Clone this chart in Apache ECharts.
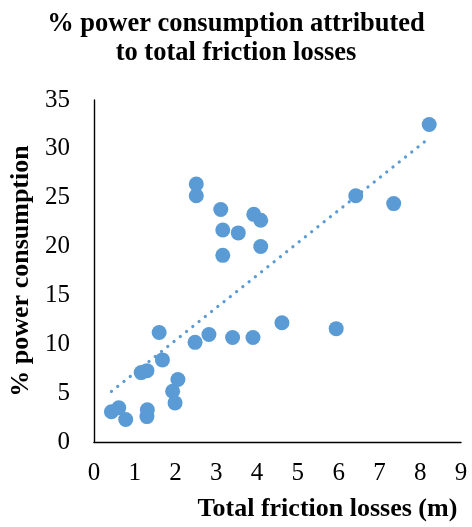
<!DOCTYPE html>
<html>
<head>
<meta charset="utf-8">
<script src="https://cdn.jsdelivr.net/npm/echarts@6/dist/echarts.min.js"></script>
<style>
  html, body { margin: 0; padding: 0; background: #fff; }
  #chart { width: 472px; height: 527px; }
</style>
</head>
<body>
<div id="chart"></div>
<script>
// Total friction losses (m)
const frictionLosses = [
  2.51, 2.51, 3.11, 3.92, 4.09, 3.16, 3.54, 4.09, 3.16, 8.22,
  6.42, 7.35, 1.60, 2.82, 2.48, 3.40, 3.90, 4.61, 5.94, 1.68,
  1.16, 1.30, 2.06, 1.93, 1.99, 0.43, 0.61, 0.78, 1.31, 1.30
];
// % power consumption attributed to friction losses
const powerShare = [
  26.4, 25.2, 23.8, 23.3, 22.7, 21.7, 21.4, 20.0, 19.1, 32.5,
  25.2, 24.4, 11.2, 11.0, 10.2, 10.7, 10.7, 12.2, 11.6, 8.4,
  7.1, 7.3, 6.4, 5.2, 4.0, 3.1, 3.5, 2.3, 3.3, 2.6
];
const xTicks = { min: 0, max: 9, step: 1 };
const yTicks = { min: 0, max: 35, step: 5 };

const points = frictionLosses.map((x, i) => [x, powerShare[i]]);

// Least-squares linear trend over the observed range
function linearTrend(xs, ys) {
  const n = xs.length;
  const mx = xs.reduce((a, b) => a + b, 0) / n;
  const my = ys.reduce((a, b) => a + b, 0) / n;
  let sxy = 0, sxx = 0;
  for (let i = 0; i < n; i++) {
    sxy += (xs[i] - mx) * (ys[i] - my);
    sxx += (xs[i] - mx) * (xs[i] - mx);
  }
  const slope = sxy / sxx;
  const intercept = my - slope * mx;
  const x0 = Math.min(...xs), x1 = Math.max(...xs);
  return [[x0, intercept + slope * x0], [x1, intercept + slope * x1]];
}
const trend = linearTrend(frictionLosses, powerShare);

const serif = "'Liberation Serif', 'Times New Roman', serif";
const blue = '#5B9BD5';

const chart = echarts.init(document.getElementById('chart'), null, { renderer: 'canvas' });
chart.setOption({
  animation: false,
  backgroundColor: '#fff',
  title: {
    text: '% power consumption attributed\nto total friction losses',
    left: 'center',
    top: 5,
    textStyle: {
      fontFamily: serif, fontSize: 26.5, fontWeight: 'bold',
      color: '#000', lineHeight: 29, align: 'center'
    }
  },
  grid: { left: 91, right: 11, top: 100, bottom: 85 },
  xAxis: {
    type: 'value',
    min: xTicks.min, max: xTicks.max, interval: xTicks.step,
    name: 'Total friction losses (m)',
    nameLocation: 'middle',
    nameGap: 54,
    nameTextStyle: {
      fontFamily: serif, fontSize: 26, fontWeight: 'bold', color: '#000',
      padding: [0, 0, 0, 100]
    },
    axisLine: { lineStyle: { color: '#000', width: 1.4 } },
    axisTick: { show: false },
    splitLine: { show: false },
    axisLabel: { fontFamily: serif, fontSize: 25, color: '#000', margin: 19 }
  },
  yAxis: {
    type: 'value',
    min: yTicks.min, max: yTicks.max, interval: yTicks.step,
    name: '% power consumption',
    nameLocation: 'middle',
    nameGap: 57,
    nameTextStyle: {
      fontFamily: serif, fontSize: 26, fontWeight: 'bold', color: '#000'
    },
    axisLine: { show: true, lineStyle: { color: '#000', width: 1.4 } },
    axisTick: { show: false },
    splitLine: { show: false },
    axisLabel: { fontFamily: serif, fontSize: 25, color: '#000', margin: 24 }
  },
  series: [
    {
      type: 'line',
      data: trend,
      symbol: 'none',
      silent: true,
      lineStyle: { color: blue, width: 3.2, type: [0.1, 7.9], cap: 'round' },
      z: 1
    },
    {
      type: 'scatter',
      data: points,
      symbol: 'circle',
      symbolSize: 15,
      itemStyle: { color: blue, opacity: 1 },
      z: 2
    }
  ]
});
</script>
</body>
</html>
